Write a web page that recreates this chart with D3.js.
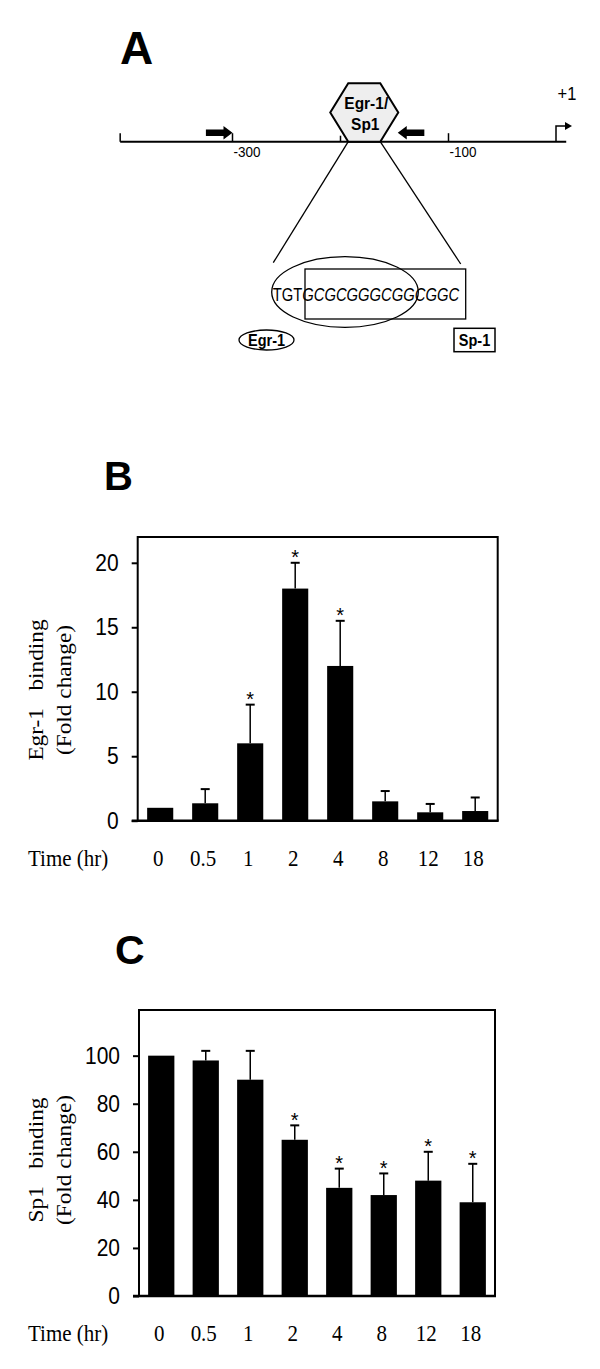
<!DOCTYPE html>
<html>
<head>
<meta charset="utf-8">
<script src="https://cdn.jsdelivr.net/npm/d3@7/dist/d3.min.js"></script>
<style>
  body { margin: 0; background: #fff; }
  svg { display: block; }
  .sans { font-family: "Liberation Sans", Arial, sans-serif; }
  .serif { font-family: "Liberation Serif", "Times New Roman", serif; }
</style>
</head>
<body>
<svg></svg>
<script>
var width = 600;
var height = 1369;
var textStretch = 1.11;

// panel A: promoter map (positions in bp)
var bpTicks = [-404, -300, -200, -100];
var bpLabels = [-300, -100];
var lineRange = [-404, 9];
var siteBp = -178;
var primerFwd = -300;
var primerRev = -147;
var tssBp = 0;
var seqPlain = "TGT";
var seqItalic = "GCGCGGGCGGCGGC";

// panels B and C
var times = ["0", "0.5", "1", "2", "4", "8", "12", "18"];
var egrMean = [1.0, 1.35, 6.0, 18.0, 12.0, 1.5, 0.65, 0.75];
var egrErr = [0, 1.1, 3.0, 2.0, 3.5, 0.8, 0.65, 1.05];
var egrSig = [false, false, true, true, true, false, false, false];
var egrTicks = [0, 5, 10, 15, 20];
var sp1Mean = [100, 98, 90, 65, 45, 42, 48, 39];
var sp1Err = [0, 4, 12, 6, 8, 9, 12, 16];
var sp1Sig = [false, false, false, true, true, true, true, true];
var sp1Ticks = [0, 20, 40, 60, 80, 100];

var svg = d3.select("svg")
    .attr("width", width)
    .attr("height", height);

svg.append("rect")
    .attr("width", width)
    .attr("height", height)
    .attr("fill", "#fff");

// scanned figure is a bit taller than wide, so text gets a vertical stretch
function stretch(sel, k, rot) {
  sel.each(function() {
    var t = d3.select(this);
    var x = +t.attr("x") || 0;
    var y = +t.attr("y") || 0;
    t.attr("x", null).attr("y", null)
      .attr("transform", "translate(" + x + "," + y + ") scale(1," + k + ")" + (rot ? " rotate(" + rot + ")" : ""));
  });
  return sel;
}

function letter(txt, x, y, size) {
  svg.append("text")
      .attr("class", "sans")
      .attr("x", x)
      .attr("y", y)
      .attr("font-size", size)
      .attr("font-weight", "bold")
      .text(txt);
}

// ---------- A ----------
letter("A", 120, 64, 46);

var bp = d3.scaleLinear().domain([-300, 0]).range([232.5, 556.5]);
var lineY = 141.7;
var gA = svg.append("g");

gA.append("line")
    .attr("x1", bp(lineRange[0]))
    .attr("x2", bp(lineRange[1]))
    .attr("y1", lineY)
    .attr("y2", lineY)
    .attr("stroke", "#000")
    .attr("stroke-width", 2);

gA.selectAll(".bptick")
  .data(bpTicks)
  .enter().append("line")
    .attr("x1", d => bp(d))
    .attr("x2", d => bp(d))
    .attr("y1", lineY)
    .attr("y2", d => d === -200 ? lineY - 6 : lineY - 8.5)
    .attr("stroke", "#000")
    .attr("stroke-width", 1.5);

stretch(gA.selectAll(".bplabel")
  .data(bpLabels)
  .enter().append("text")
    .attr("class", "sans")
    .attr("x", d => bp(d) + 1)
    .attr("y", 156.5)
    .attr("font-size", 13.5)
    .text(d => d), 1.08);

// lines fanning out from the site to the zoomed sequence
var hx = bp(siteBp);
gA.append("line")
    .attr("x1", hx - 16).attr("y1", lineY)
    .attr("x2", 273.3).attr("y2", 262.7)
    .attr("stroke", "#000").attr("stroke-width", 1.3);
gA.append("line")
    .attr("x1", hx + 16).attr("y1", lineY)
    .attr("x2", 460.7).attr("y2", 264)
    .attr("stroke", "#000").attr("stroke-width", 1.3);

// hexagon binding site
var hexTop = 83.3;
var hexMid = (hexTop + lineY) / 2;
gA.append("path")
    .attr("d", "M" + (hx - 16) + "," + hexTop +
               "L" + (hx + 16) + "," + hexTop +
               "L" + (hx + 34) + "," + hexMid +
               "L" + (hx + 16) + "," + lineY +
               "L" + (hx - 16) + "," + lineY +
               "L" + (hx - 34) + "," + hexMid + "Z")
    .attr("fill", "#eeeeee")
    .attr("stroke", "#000")
    .attr("stroke-width", 2);

stretch(gA.selectAll(".hexlabel")
  .data([["Egr-1/", 2, 108.5], ["Sp1", 1, 129.5]])
  .enter().append("text")
    .attr("class", "sans")
    .attr("x", d => hx + d[1])
    .attr("y", d => d[2])
    .attr("text-anchor", "middle")
    .attr("font-size", 15.5)
    .attr("font-weight", "bold")
    .text(d => d[0]), 1.1);

// primer arrows
function primer(tip, dir) {
  var x = bp(tip);
  var y = 132.7;
  var len = 26.6, head = 9, sh = 3.3, hh = 6.7;
  var p = [[0, -sh], [len - head, -sh], [len - head, -hh], [len, 0],
           [len - head, hh], [len - head, sh], [0, sh]];
  gA.append("path")
      .attr("d", "M" + p.map(q => [x - dir * (len - q[0]), y + q[1]].join(",")).join("L") + "Z")
      .attr("fill", "#000");
}
primer(primerFwd, 1);
primer(primerRev, -1);

// transcription start
var tx = bp(tssBp) - 0.5;
gA.append("path")
    .attr("d", "M" + tx + "," + lineY + "V126H566")
    .attr("fill", "none")
    .attr("stroke", "#000")
    .attr("stroke-width", 1.5);
gA.append("path")
    .attr("d", "M565,122L572,126L565,130Z")
    .attr("fill", "#000");
stretch(gA.append("text")
    .attr("class", "sans")
    .attr("x", 557.5)
    .attr("y", 100)
    .attr("font-size", 16.5)
    .text("+1"), 1.08);

// zoomed sequence with Egr-1 (ellipse) and Sp-1 (box) sites
gA.append("ellipse")
    .attr("cx", 345).attr("cy", 292)
    .attr("rx", 73.3).attr("ry", 35.3)
    .attr("fill", "none").attr("stroke", "#000").attr("stroke-width", 1.3);
gA.append("rect")
    .attr("x", 305).attr("y", 269)
    .attr("width", 160.7).attr("height", 50)
    .attr("fill", "none").attr("stroke", "#000").attr("stroke-width", 1.3);

var seq = gA.append("text")
    .attr("class", "sans")
    .attr("x", 272.7)
    .attr("y", 301)
    .attr("font-size", 14.8);
seq.append("tspan").text(seqPlain);
seq.append("tspan").attr("font-style", "italic").text(seqItalic);
stretch(seq, 1.2);

gA.append("ellipse")
    .attr("cx", 266.5).attr("cy", 340)
    .attr("rx", 27.5).attr("ry", 10)
    .attr("fill", "none").attr("stroke", "#000").attr("stroke-width", 1.3);
gA.append("rect")
    .attr("x", 454).attr("y", 328.3)
    .attr("width", 41).attr("height", 23.4)
    .attr("fill", "none").attr("stroke", "#000").attr("stroke-width", 1.5);
stretch(gA.selectAll(".site")
  .data([["Egr-1", 266.5], ["Sp-1", 474.5]])
  .enter().append("text")
    .attr("class", "sans")
    .attr("x", d => d[1])
    .attr("y", 346)
    .attr("text-anchor", "middle")
    .attr("font-size", 14.5)
    .attr("font-weight", "bold")
    .text(d => d[0]), 1.15);

// ---------- B and C ----------
function barPanel(p) {
  var g = svg.append("g");
  var x = d3.scaleBand()
      .domain(times)
      .range([p.left, p.right])
      .paddingInner(p.pad)
      .paddingOuter(p.pad / 2);
  var y = d3.scaleLinear()
      .domain(p.domain)
      .range([p.bottom, p.top]);
  var rows = times.map((t, i) => ({ t: t, m: p.mean[i], e: p.err[i], s: p.sig[i] }));

  g.selectAll(".bar")
    .data(rows)
    .enter().append("rect")
      .attr("x", d => x(d.t))
      .attr("y", d => y(d.m))
      .attr("width", x.bandwidth())
      .attr("height", d => y(0) - y(d.m))
      .attr("fill", "#000");

  var eb = rows.filter(d => d.e > 0);
  g.selectAll(".err")
    .data(eb)
    .enter().append("line")
      .attr("x1", d => x(d.t) + x.bandwidth() / 2)
      .attr("x2", d => x(d.t) + x.bandwidth() / 2)
      .attr("y1", d => y(d.m))
      .attr("y2", d => y(d.m + d.e))
      .attr("stroke", "#000")
      .attr("stroke-width", 1.5);
  g.selectAll(".cap")
    .data(eb)
    .enter().append("line")
      .attr("x1", d => x(d.t) + x.bandwidth() / 2 - 4.5)
      .attr("x2", d => x(d.t) + x.bandwidth() / 2 + 4.5)
      .attr("y1", d => y(d.m + d.e))
      .attr("y2", d => y(d.m + d.e))
      .attr("stroke", "#000")
      .attr("stroke-width", 2);

  g.selectAll(".star")
    .data(rows.filter(d => d.s))
    .enter().append("text")
      .attr("class", "sans")
      .attr("x", d => x(d.t) + x.bandwidth() / 2)
      .attr("y", d => y(d.m + d.e) + 1.5)
      .attr("text-anchor", "middle")
      .attr("font-size", 20)
      .text("*");

  // frame
  g.append("path")
      .attr("d", "M" + p.left + "," + p.bottom + "V" + p.top + "H" + p.right + "V" + p.bottom)
      .attr("fill", "none")
      .attr("stroke", "#000")
      .attr("stroke-width", 2);
  g.append("line")
      .attr("x1", p.left - 6).attr("x2", p.right + 1)
      .attr("y1", p.bottom).attr("y2", p.bottom)
      .attr("stroke", "#000")
      .attr("stroke-width", 2.5);

  var ax = g.append("g")
      .attr("transform", "translate(" + p.left + ",0)")
      .call(d3.axisLeft(y).tickValues(p.ticks).tickSize(6).tickPadding(13));
  ax.select(".domain").remove();
  ax.selectAll("line").attr("stroke-width", 2);
  ax.selectAll("text")
      .attr("class", "sans")
      .attr("font-size", 21)
      .attr("fill", "#000");
  stretch(ax.selectAll("text"), textStretch);

  stretch(g.selectAll(".tlabel")
    .data(times)
    .enter().append("text")
      .attr("class", "serif")
      .attr("x", d => x(d) + x.bandwidth() / 2 - 2)
      .attr("y", p.bottom + 45)
      .attr("text-anchor", "middle")
      .attr("font-size", 21)
      .text(d => d), textStretch);

  stretch(g.append("text")
      .attr("class", "serif")
      .attr("x", 28)
      .attr("y", p.bottom + 45)
      .attr("font-size", 21)
      .text("Time (hr)"), textStretch);

  stretch(g.selectAll(".ytitle")
    .data([[p.title, 43], ["(Fold change)", 71]])
    .enter().append("text")
      .attr("class", "serif")
      .attr("x", d => d[1])
      .attr("y", p.titleY)
      .attr("text-anchor", "middle")
      .attr("font-size", 21)
      .text(d => d[0]), textStretch, -90);
}

letter("B", 104, 490, 40);
barPanel({
  left: 137.7, right: 497.7, top: 537, bottom: 820.7,
  domain: [0, 22], ticks: egrTicks, pad: 0.42,
  mean: egrMean, err: egrErr, sig: egrSig,
  title: "Egr-1\u00a0\u00a0\u00a0binding", titleY: 690
});

letter("C", 115, 964, 41);
barPanel({
  left: 139, right: 495, top: 1010, bottom: 1296,
  domain: [0, 119], ticks: sp1Ticks, pad: 0.41,
  mean: sp1Mean, err: sp1Err, sig: sp1Sig,
  title: "Sp1\u00a0\u00a0\u00a0binding", titleY: 1160
});
</script>
</body>
</html>
